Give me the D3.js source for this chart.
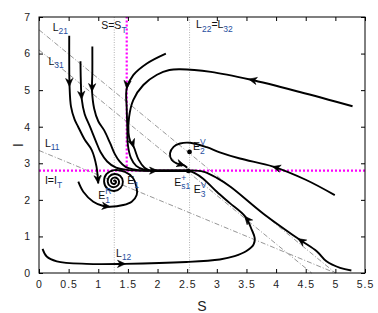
<!DOCTYPE html>
<html>
<head>
<meta charset="utf-8">
<script src="https://cdn.jsdelivr.net/npm/d3@7"></script>
<style>
  body { margin: 0; background: #fff; }
  svg text { font-family: "Liberation Sans", Arial, sans-serif; }
</style>
</head>
<body>
<script>
// axis ticks
const xTicks = [0, 0.5, 1, 1.5, 2, 2.5, 3, 3.5, 4, 4.5, 5, 5.5];
const xTickLabels = ["0", "0.5", "1", "1.5", "2", "2.5", "3", "3.5", "4", "4.5", "5", "5.5"];
const yTicks = [0, 1, 2, 3, 4, 5, 6, 7];
const yTickLabels = ["0", "1", "2", "3", "4", "5", "6", "7"];

// thresholds
const sT = 1.48;
const iT = 2.8;
const dottedS = [1.27, 2.54];

// dash-dot isoclines
const lineL21 = [[0, 6.65], [5, 0]];
const lineL31 = [[0, 6.1], [4.6, 0]];
const lineL11 = [[0, 3.35], [5, 0]];

// trajectories (S, I)
const trajT1 = [[0.51, 6.49], [0.51, 5.8], [0.515, 5.13], [0.54, 4.55], [0.6, 4.2], [0.66, 4.0], [0.77, 3.65], [0.89, 3.36], [0.97, 2.91], [0.995, 2.55], [1.0, 2.45]];
const trajT2 = [[0.70, 5.79], [0.705, 5.3], [0.72, 4.77], [0.77, 4.35], [0.86, 4.0], [0.96, 3.6], [1.04, 3.3], [1.15, 3.05], [1.3, 2.88], [1.48, 2.82], [1.7, 2.8], [1.87, 2.8]];
const trajT3 = [[0.90, 6.19], [0.9, 5.5], [0.895, 4.98], [0.93, 4.5], [1.0, 4.15], [1.1, 3.9], [1.2, 3.55], [1.28, 3.25], [1.36, 3.05], [1.46, 2.9], [1.6, 2.83], [1.75, 2.8], [1.87, 2.8]];
const trajA = [[5.29, 4.56], [4.4, 4.95], [3.56, 5.29], [2.9, 5.5], [2.38, 5.57], [2.2, 5.55], [1.99, 5.42], [1.76, 5.14], [1.59, 4.73], [1.52, 4.27], [1.51, 3.83], [1.54, 3.6], [1.6, 3.44], [1.68, 3.1], [1.78, 2.88], [1.87, 2.8]];
const trajB = [[2.14, 6.0], [1.82, 5.73], [1.59, 5.41], [1.48, 5.05], [1.48, 4.5], [1.49, 4.0], [1.5, 3.5], [1.55, 3.15], [1.64, 2.93], [1.76, 2.83], [1.87, 2.8]];
const trajC = [[4.99, 2.13], [4.5, 2.55], [3.95, 2.91], [3.39, 3.13], [3.05, 3.3], [2.83, 3.44], [2.55, 3.56], [2.38, 3.54], [2.27, 3.45], [2.21, 3.27], [2.24, 3.09], [2.32, 3.0], [2.44, 2.95], [2.5, 2.88]];
const trajD = [[5.27, 0.07], [5.08, 0.14], [4.85, 0.32], [4.69, 0.59], [4.38, 0.93], [3.78, 1.63], [3.23, 2.36], [3.0, 2.6], [2.8, 2.76], [2.65, 2.8], [2.53, 2.8]];
const trajE = [[0.06, 0.66], [0.13, 0.45], [0.3, 0.32], [0.8, 0.25], [1.45, 0.25], [2.49, 0.3], [3.05, 0.37], [3.3, 0.46], [3.5, 0.6], [3.62, 0.78], [3.64, 0.95], [3.59, 1.18], [3.48, 1.54], [3.22, 1.91], [3.0, 2.22], [2.77, 2.58], [2.62, 2.74], [2.53, 2.79]];
const trajSpiral = [[0.663, 2.497], [0.747, 2.223], [0.916, 1.95], [1.085, 1.832], [1.198, 1.813], [1.422, 1.859], [1.564, 1.95], [1.648, 2.133], [1.645, 2.352], [1.586, 2.598], [1.451, 2.762], [1.27, 2.814], [1.141, 2.709], [1.098, 2.5], [1.153, 2.31], [1.27, 2.243], [1.377, 2.326], [1.415, 2.5], [1.367, 2.657], [1.27, 2.708], [1.185, 2.637], [1.159, 2.5], [1.197, 2.382], [1.27, 2.347], [1.332, 2.399], [1.351, 2.5], [1.322, 2.585], [1.27, 2.609], [1.227, 2.57], [1.216, 2.5], [1.237, 2.446], [1.27, 2.434], [1.294, 2.461], [1.299, 2.5], [1.287, 2.527], [1.27, 2.53], [1.262, 2.505]];
const slidingSeg = [[1.87, 2.8], [2.52, 2.8]];

// arrow heads: from (S,I) toward (S2,I2), tip at second point
const arrows = [
  [0.511, 5.25, 0.513, 5.10],
  [0.715, 4.90, 0.72, 4.75],
  [0.896, 5.10, 0.895, 4.96],
  [0.99, 2.62, 1.0, 2.45],
  [3.70, 5.24, 3.54, 5.30],
  [1.56, 3.62, 1.6, 3.44],
  [1.49, 5.2, 1.48, 5.04],
  [4.1, 2.84, 3.94, 2.91],
  [2.38, 2.98, 2.46, 2.94],
  [4.5, 0.8, 4.37, 0.94],
  [1.3, 0.25, 1.46, 0.25],
  [3.56, 1.38, 3.47, 1.55],
  [1.1, 1.83, 1.2, 1.81],
  [1.9, 2.8, 2.0, 2.8]
];

// equilibria
const eqPoints = [[2.54, 3.31], [2.52, 2.79]];

// annotations: n = normal, b = subscript, p = superscript
const labels = [
  { segs: [["L", "n"], ["21", "b"]], S: 0.23, I: 6.62 },
  { segs: [["L", "n"], ["31", "b"]], S: 0.16, I: 5.69 },
  { segs: [["L", "n"], ["11", "b"]], S: 0.10, I: 3.45 },
  { segs: [["S=S", "n"], ["T", "b"]], S: 1.05, I: 6.67 },
  { segs: [["L", "n"], ["22", "b"], ["=L", "n"], ["32", "b"]], S: 2.65, I: 6.69 },
  { segs: [["I=I", "n"], ["T", "b"]], S: 0.10, I: 2.43 },
  { segs: [["E", "n"], ["R", "p"], ["1", "b"]], S: 1.00, I: 2.02 },
  { segs: [["E", "n"], ["1", "b"]], S: 1.49, I: 2.42 },
  { segs: [["E", "n"], ["+", "p"], ["s1", "b"]], S: 2.28, I: 2.39 },
  { segs: [["E", "n"], ["V", "p"], ["2", "b"]], S: 2.60, I: 3.36 },
  { segs: [["E", "n"], ["V", "p"], ["3", "b"]], S: 2.61, I: 2.18 },
  { segs: [["L", "n"], ["12", "b"]], S: 1.30, I: 0.45 }
];

const w = 378;
const h = 313;

const x = d3.scaleLinear().domain([0, 5.5]).range([39, 365]);
const y = d3.scaleLinear().domain([0, 7]).range([273, 17]);

const svg = d3.select("body").append("svg").attr("width", w).attr("height", h);

// gray dotted verticals
svg.selectAll(".vdot")
  .data(dottedS)
  .enter()
  .append("line")
  .attr("x1", (d) => x(d)).attr("x2", (d) => x(d))
  .attr("y1", y(0)).attr("y2", y(7))
  .attr("stroke", "#aaa")
  .attr("stroke-width", 0.9)
  .attr("stroke-dasharray", "1,1.5");

// dash-dot lines
const line = d3.line().x((d) => x(d[0])).y((d) => y(d[1]));
svg.selectAll(".iso")
  .data([lineL21, lineL31, lineL11])
  .enter()
  .append("path")
  .attr("d", line)
  .attr("fill", "none")
  .attr("stroke", "#8a8a8a")
  .attr("stroke-width", 0.9)
  .attr("stroke-dasharray", "5,2,1,2");

// magenta thresholds
svg.append("line")
  .attr("x1", x(0)).attr("x2", x(5.5))
  .attr("y1", y(iT)).attr("y2", y(iT))
  .attr("stroke", "#ff00ff").attr("stroke-width", 2.2)
  .attr("stroke-dasharray", "2,2");
svg.append("line")
  .attr("x1", x(sT)).attr("x2", x(sT))
  .attr("y1", y(iT)).attr("y2", y(7))
  .attr("stroke", "#ff00ff").attr("stroke-width", 2.2)
  .attr("stroke-dasharray", "2,2");

// trajectories
const curve = d3.line().x((d) => x(d[0])).y((d) => y(d[1])).curve(d3.curveCatmullRom.alpha(0.5));
svg.selectAll(".traj")
  .data([trajT1, trajT2, trajT3, trajA, trajB, trajC, trajD, trajE, trajSpiral])
  .enter()
  .append("path")
  .attr("d", curve)
  .attr("fill", "none")
  .attr("stroke", "#000")
  .attr("stroke-width", 1.9)
  .attr("stroke-linejoin", "round");

svg.append("path")
  .attr("d", line(slidingSeg))
  .attr("stroke", "#000")
  .attr("stroke-width", 2.6);

// arrow heads
svg.selectAll(".arrow")
  .data(arrows)
  .enter()
  .append("path")
  .attr("d", "M0,0 L-8,-3.6 L-5.5,0 L-8,3.6 Z")
  .attr("fill", "#000")
  .attr("stroke", "#000")
  .attr("stroke-width", 0.6)
  .attr("transform", (d) => {
    const ang = Math.atan2(y(d[3]) - y(d[1]), x(d[2]) - x(d[0])) * 180 / Math.PI;
    return "translate(" + x(d[2]) + "," + y(d[3]) + ") rotate(" + ang + ")";
  });

// equilibria dots
svg.selectAll(".eq")
  .data(eqPoints)
  .enter()
  .append("circle")
  .attr("cx", (d) => x(d[0]))
  .attr("cy", (d) => y(d[1]))
  .attr("r", 2.4)
  .attr("fill", "#000");

// frame
svg.append("rect")
  .attr("x", x(0)).attr("y", y(7))
  .attr("width", x(5.5) - x(0)).attr("height", y(0) - y(7))
  .attr("fill", "none").attr("stroke", "#000").attr("stroke-width", 1);

// axes with inward ticks
const xAxis = d3.axisBottom(x).tickValues(xTicks).tickSizeInner(-4).tickSizeOuter(0).tickPadding(8)
  .tickFormat((d, i) => xTickLabels[i]);
const yAxis = d3.axisLeft(y).tickValues(yTicks).tickSizeInner(-4).tickSizeOuter(0).tickPadding(8)
  .tickFormat((d, i) => yTickLabels[i]);

svg.append("g").attr("transform", "translate(0," + y(0) + ")").call(xAxis);
svg.append("g").attr("transform", "translate(" + x(0) + ",0)").call(yAxis);
svg.append("g").attr("transform", "translate(0," + y(7) + ")")
  .call(d3.axisTop(x).tickValues(xTicks).tickSizeInner(-4).tickSizeOuter(0).tickFormat(""));
svg.append("g").attr("transform", "translate(" + x(5.5) + ",0)")
  .call(d3.axisRight(y).tickValues(yTicks).tickSizeInner(-4).tickSizeOuter(0).tickFormat(""));
svg.selectAll(".domain").remove();
svg.selectAll(".tick line").attr("stroke", "#000");
svg.selectAll(".tick text")
  .attr("fill", "#222")
  .style("font-size", "10.5px")
  .style("font-family", "'Liberation Sans', Arial, sans-serif")
  .style("letter-spacing", "1px");

// axis labels
svg.append("text")
  .attr("x", (x(0) + x(5.5)) / 2)
  .attr("y", 311)
  .attr("text-anchor", "middle")
  .style("font-size", "14px")
  .attr("fill", "#222")
  .text("S");
svg.append("text")
  .attr("transform", "translate(23," + (y(0) + y(7)) / 2 + ") rotate(-90)")
  .attr("text-anchor", "middle")
  .style("font-size", "14px")
  .attr("fill", "#222")
  .text("I");

// annotations with sub/superscripts
labels.forEach((lab) => {
  let cx = x(lab.S);
  const by = y(lab.I);
  let supW = 0;
  lab.segs.forEach((seg) => {
    const type = seg[1];
    const t = svg.append("text")
      .attr("x", cx)
      .attr("y", type === "b" ? by + 3.5 : type === "p" ? by - 5 : by)
      .style("font-size", type === "n" ? "10.5px" : "8.5px")
      .attr("fill", type === "n" ? "#111" : "#1f4e9e")
      .text(seg[0]);
    const tw = t.node().getComputedTextLength();
    if (type === "p") {
      supW = tw;
    } else if (type === "b") {
      cx += Math.max(tw, supW);
      supW = 0;
    } else {
      cx += tw;
    }
  });
});
</script>
</body>
</html>
